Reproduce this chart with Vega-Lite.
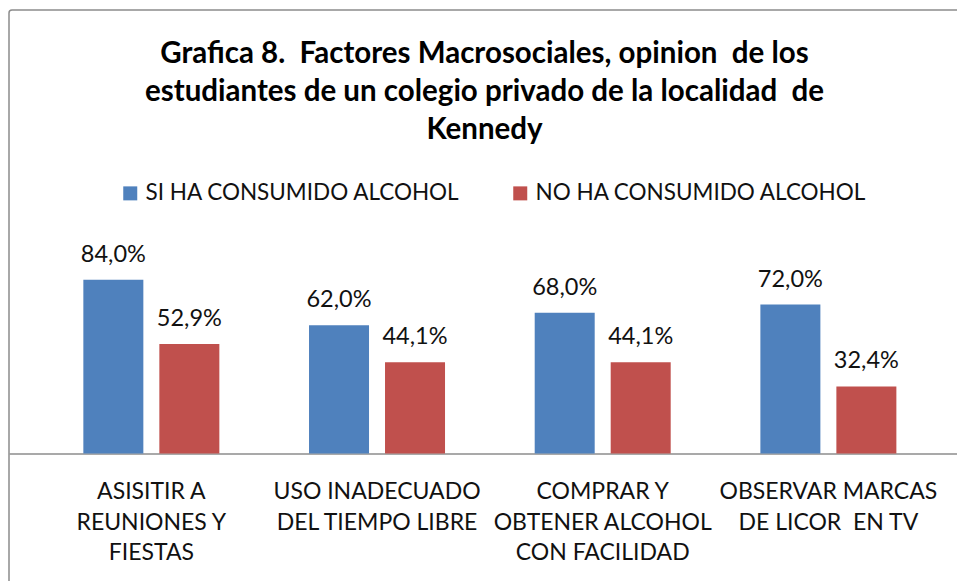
{
  "$schema": "https://vega.github.io/schema/vega-lite/v6.json",
  "width": 957,
  "height": 581,
  "autosize": {"type": "fit", "contains": "padding"},
  "padding": {"left": 9, "top": 10, "right": -3, "bottom": -3},
  "background": "white",
  "config": {
    "font": "Lato",
    "locale": {"number": {"decimal": ",", "thousands": ".", "grouping": [3], "currency": ["", " €"]}},
    "view": {"stroke": "#8c8c8c", "strokeWidth": 1.5, "cornerRadius": 3}
  },
  "title": {
    "text": ["Grafica 8.\u00a0 Factores Macrosociales, opinion\u00a0 de los", "estudiantes de un colegio privado de la localidad\u00a0 de", "Kennedy"],
    "fontSize": 29.5,
    "fontWeight": "bold",
    "lineHeight": 38,
    "color": "#000000",
    "anchor": "middle",
    "frame": "group",
    "offset": -135
  },
  "datasets": {
    "main": [
      {"factor": "ASISITIR A|REUNIONES Y|FIESTAS", "grupo": "SI HA CONSUMIDO ALCOHOL", "valor": 0.84},
      {"factor": "ASISITIR A|REUNIONES Y|FIESTAS", "grupo": "NO HA CONSUMIDO ALCOHOL", "valor": 0.529},
      {"factor": "USO INADECUADO|DEL TIEMPO LIBRE", "grupo": "SI HA CONSUMIDO ALCOHOL", "valor": 0.62},
      {"factor": "USO INADECUADO|DEL TIEMPO LIBRE", "grupo": "NO HA CONSUMIDO ALCOHOL", "valor": 0.441},
      {"factor": "COMPRAR Y|OBTENER ALCOHOL|CON FACILIDAD", "grupo": "SI HA CONSUMIDO ALCOHOL", "valor": 0.68},
      {"factor": "COMPRAR Y|OBTENER ALCOHOL|CON FACILIDAD", "grupo": "NO HA CONSUMIDO ALCOHOL", "valor": 0.441},
      {"factor": "OBSERVAR MARCAS|DE LICOR\u00a0 EN TV", "grupo": "SI HA CONSUMIDO ALCOHOL", "valor": 0.72},
      {"factor": "OBSERVAR MARCAS|DE LICOR\u00a0 EN TV", "grupo": "NO HA CONSUMIDO ALCOHOL", "valor": 0.324}
    ]
  },
  "data": {"name": "main"},
  "encoding": {
    "x": {
      "field": "factor",
      "type": "nominal",
      "scale": {
        "domain": ["ASISITIR A|REUNIONES Y|FIESTAS", "USO INADECUADO|DEL TIEMPO LIBRE", "COMPRAR Y|OBTENER ALCOHOL|CON FACILIDAD", "OBSERVAR MARCAS|DE LICOR\u00a0 EN TV"],
        "paddingInner": 0,
        "paddingOuter": 0.107,
        "align": 0.611
      },
      "axis": {
        "title": null,
        "domain": true,
        "domainColor": "#8c8c8c",
        "domainWidth": 1.5,
        "ticks": false,
        "labelAngle": 0,
        "labelFontSize": 23,
        "labelLineHeight": 30.5,
        "labelColor": "#111111",
        "labelLimit": 400,
        "labelPadding": 27,
        "offset": -130.5,
        "labelExpr": "split(datum.label, '|')"
      }
    },
    "xOffset": {
      "field": "grupo",
      "type": "nominal",
      "scale": {"domain": ["SI HA CONSUMIDO ALCOHOL", "NO HA CONSUMIDO ALCOHOL"], "paddingInner": 0.2105, "paddingOuter": 0.59}
    },
    "y": {
      "field": "valor",
      "type": "quantitative",
      "stack": null,
      "scale": {"domain": [-0.63, 2.1425], "nice": false, "zero": false},
      "axis": null
    }
  },
  "layer": [
    {
      "mark": {"type": "bar"},
      "encoding": {
        "y2": {"datum": 0},
        "color": {
          "field": "grupo",
          "type": "nominal",
          "scale": {"domain": ["SI HA CONSUMIDO ALCOHOL", "NO HA CONSUMIDO ALCOHOL"], "range": ["#4F81BD", "#C0504D"]},
          "legend": {
            "orient": "none",
            "legendX": 110,
            "legendY": 172,
            "direction": "horizontal",
            "title": null,
            "labelFontSize": 22.5,
            "labelColor": "#111111",
            "labelLimit": 400,
            "symbolType": "square",
            "symbolSize": 196,
            "symbolStrokeWidth": 0,
            "columnPadding": 48,
            "labelOffset": 4,
            "padding": 0
          }
        }
      }
    },
    {
      "mark": {"type": "text", "dy": -18, "baseline": "alphabetic", "fontSize": 23.5, "color": "#111111"},
      "encoding": {
        "text": {"field": "valor", "type": "quantitative", "format": ".1%"}
      }
    }
  ]
}
